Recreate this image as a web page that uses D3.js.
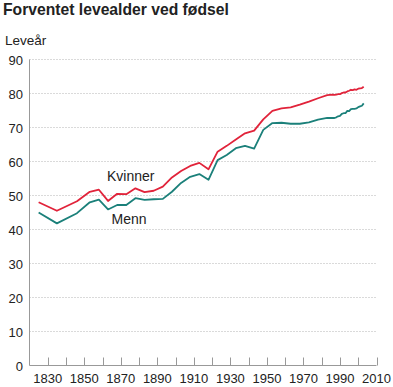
<!DOCTYPE html>
<html>
<head>
<meta charset="utf-8">
<script src="https://cdn.jsdelivr.net/npm/d3@7"></script>
<style>
  body { margin: 0; background: #fff; }
  text { font-family: "Liberation Sans", Arial, sans-serif; fill: #222; }
</style>
</head>
<body>
<div id="chart"></div>
<script>
var width = 393,
    height = 387;

// years (period midpoints, then single years)
var years = [1825, 1835, 1846, 1853, 1858, 1863, 1868, 1873, 1878, 1883, 1888, 1893, 1898,
  1903, 1908, 1913, 1918, 1923, 1928, 1933, 1938, 1943, 1948, 1953, 1958, 1963, 1968,
  1973, 1978, 1983, 1986, 1987, 1988, 1989, 1990, 1991, 1992, 1993, 1994, 1995, 1996,
  1997, 1998, 1999, 2000, 2001, 2002, 2003];

var kvinner = [48.0, 45.5, 48.3, 51.1, 51.7, 48.4, 50.5, 50.4, 52.1, 51.0, 51.4, 52.6, 55.3,
  57.2, 58.7, 59.6, 57.7, 62.9, 64.6, 66.5, 68.3, 69.1, 72.4, 74.9, 75.6, 75.9, 76.7,
  77.6, 78.6, 79.5, 79.7, 79.6, 79.7, 79.8, 79.8, 80.1, 80.3, 80.3, 80.6, 80.8, 81.1,
  81.0, 81.2, 81.1, 81.4, 81.5, 81.6, 82.0];

var menn = [45.0, 41.8, 44.8, 48.0, 48.8, 45.9, 47.2, 47.2, 49.2, 48.7, 48.9, 49.0, 51.1,
  53.7, 55.5, 56.3, 54.6, 60.4, 61.9, 63.9, 64.6, 63.8, 69.3, 71.3, 71.4, 71.1, 71.1,
  71.5, 72.3, 72.8, 72.8, 72.8, 73.0, 73.3, 73.4, 74.0, 74.2, 74.2, 74.9, 74.8, 75.4,
  75.5, 75.5, 75.6, 76.0, 76.2, 76.4, 77.1];

var yTicks = [0, 10, 20, 30, 40, 50, 60, 70, 80, 90];
var xTicks = d3.range(1830, 2011, 10);
var xLabels = [1830, 1850, 1870, 1890, 1910, 1930, 1950, 1970, 1990, 2010];

var x = d3.scaleLinear()
    .domain([1820, 2010])
    .range([29.5, 376.5]);

var y = d3.scaleLinear()
    .domain([0, 90])
    .range([365.5, 59.5]);

var svg = d3.select("#chart").append("svg")
    .attr("width", width)
    .attr("height", height);

svg.append("text")
    .attr("x", 3)
    .attr("y", 15)
    .style("font-size", "15.7px")
    .style("font-weight", "bold")
    .text("Forventet levealder ved fødsel");

svg.append("text")
    .attr("x", 5)
    .attr("y", 45)
    .style("font-size", "13.5px")
    .text("Leveår");

// dotted grid lines
svg.append("g")
    .selectAll("line")
    .data(yTicks.filter(function(d) { return d > 0; }))
    .enter().append("line")
    .attr("x1", x(1820))
    .attr("x2", x(2010))
    .attr("y1", function(d) { return y(d); })
    .attr("y2", function(d) { return y(d); })
    .attr("stroke", "#b4b4b4")
    .attr("stroke-width", 1)
    .attr("stroke-dasharray", "1,2");

// y labels
svg.append("g")
    .selectAll("text")
    .data(yTicks)
    .enter().append("text")
    .attr("x", 23)
    .attr("y", function(d) { return y(d) + 5; })
    .attr("text-anchor", "end")
    .style("font-size", "13px")
    .text(function(d) { return d; });

// axes lines
svg.append("line")
    .attr("x1", x(1820)).attr("x2", x(1820))
    .attr("y1", y(90)).attr("y2", y(0))
    .attr("stroke", "#999");

svg.append("line")
    .attr("x1", x(1820)).attr("x2", x(2010))
    .attr("y1", y(0)).attr("y2", y(0))
    .attr("stroke", "#999");

// x ticks point upward
svg.append("g")
    .selectAll("line")
    .data(xTicks)
    .enter().append("line")
    .attr("x1", function(d) { return Math.round(x(d)) + 0.5; })
    .attr("x2", function(d) { return Math.round(x(d)) + 0.5; })
    .attr("y1", y(0))
    .attr("y2", y(0) - 8)
    .attr("stroke", "#999");

svg.append("g")
    .selectAll("text")
    .data(xLabels)
    .enter().append("text")
    .attr("x", function(d) { return x(d); })
    .attr("y", 383)
    .attr("text-anchor", "middle")
    .style("font-size", "13px")
    .text(function(d) { return d; });

var line = d3.line()
    .x(function(d) { return x(d[0]); })
    .y(function(d) { return y(d[1]); });

var series = [
  { name: "Menn", values: menn, color: "#1b807a" },
  { name: "Kvinner", values: kvinner, color: "#e1233a" }
];

svg.append("g")
    .selectAll("path")
    .data(series)
    .enter().append("path")
    .attr("fill", "none")
    .attr("stroke", function(d) { return d.color; })
    .attr("stroke-width", 1.8)
    .attr("stroke-linejoin", "round")
    .attr("d", function(d) {
      return line(years.map(function(yr, i) { return [yr, d.values[i]]; }));
    });

svg.append("text")
    .attr("x", 107)
    .attr("y", 180.5)
    .style("font-size", "14px")
    .text("Kvinner");

svg.append("text")
    .attr("x", 111.5)
    .attr("y", 224)
    .style("font-size", "14px")
    .text("Menn");
</script>
</body>
</html>
